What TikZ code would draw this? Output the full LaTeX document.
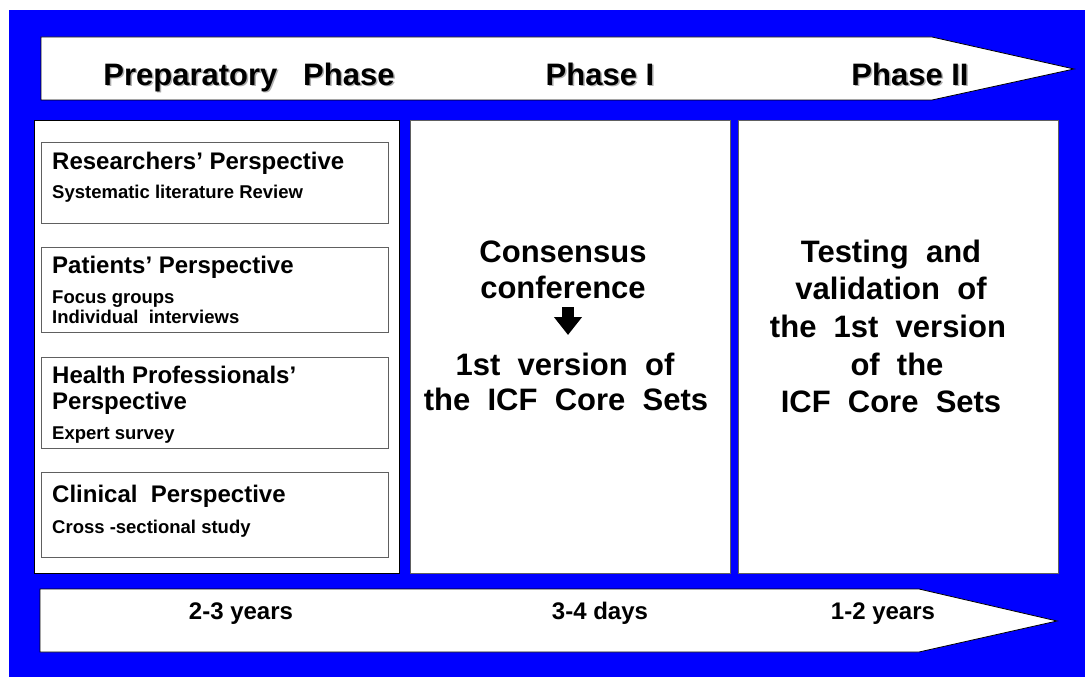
\documentclass[tikz,border=0pt]{standalone}
\usepackage{fontspec}
\setmainfont{Liberation Sans}
\usetikzlibrary{arrows.meta}

\definecolor{bgblue}{RGB}{0,0,255}
\definecolor{boxgray}{RGB}{96,96,96}
\definecolor{shadowgray}{RGB}{175,175,175}

\begin{document}
\begin{tikzpicture}[x=1pt,y=-1pt,
  panel/.style={draw=black, line width=0.8pt, fill=white},
  subbox/.style={draw=boxgray, line width=0.8pt, fill=white},
  arrowband/.style={draw=black, line width=0.8pt, fill=white, line join=miter},
  phase/.style={font=\fontsize{31}{36}\selectfont\bfseries, inner sep=0pt, anchor=base},
  phaseshadow/.style={phase, text=shadowgray},
  big/.style={font=\fontsize{31}{37}\selectfont\bfseries, inner sep=0pt, anchor=base},
  boxtitle/.style={font=\fontsize{24}{26}\selectfont\bfseries, inner sep=0pt, anchor=base west},
  boxsub/.style={font=\fontsize{18.5}{20}\selectfont\bfseries, inner sep=0pt, anchor=base west},
  duration/.style={font=\fontsize{24}{26}\selectfont\bfseries, inner sep=0pt, anchor=base},
  blockarrow/.style={line width=12pt, -{Triangle[width=27pt,length=18pt]}},
]
\useasboundingbox (0,0) rectangle (1085,677);
\fill[white] (0,0) rectangle (1085,677);
\fill[bgblue] (9,10) rectangle (1085,677);

% phase band across the top
\draw[arrowband] (41,37) -- (932,37) -- (1074,69) -- (932,100) -- (41,100) -- cycle;
\node[phaseshadow] at (250.5,86.5) {Preparatory~~~Phase};
\node[phaseshadow] at (601.5,86.5) {Phase I};
\node[phaseshadow] at (911.5,86.5) {Phase II};
\node[phase] (prep) at (249,85) {Preparatory~~~Phase};
\node[phase] (ph1) at (600,85) {Phase I};
\node[phase] (ph2) at (910,85) {Phase II};

% three phase panels
\draw[panel] (34,120) rectangle (399,573);
\draw[panel, draw=boxgray] (410,120) rectangle (730,573);
\draw[panel, draw=boxgray] (738,120) rectangle (1058,573);

% preparatory studies
\draw[subbox] (41,142) rectangle (388,223);
\draw[subbox] (41,247) rectangle (388,332);
\draw[subbox] (41,357) rectangle (388,448);
\draw[subbox] (41,472) rectangle (388,557);

\node[boxtitle] (r1) at (52,169) {Researchers’ Perspective};
\node[boxsub]   (r2) at (52,198) {Systematic literature Review};
\node[boxtitle] (p1) at (52,273) {Patients’ Perspective};
\node[boxsub]   (p2) at (52,303) {Focus groups};
\node[boxsub]   (p3) at (52,323) {Individual~~interviews};
\node[boxtitle] (h1) at (52,383) {Health Professionals’};
\node[boxtitle] (h2) at (52,409) {Perspective};
\node[boxsub]   (h3) at (52,439) {Expert survey};
\node[boxtitle] (c1) at (52,502) {Clinical~~Perspective};
\node[boxsub]   (c2) at (52,533) {Cross -sectional study};

% phase I
\node[big] (cc1) at (563,262) {Consensus};
\node[big] (cc2) at (563,298) {conference};
\coordinate (arrS) at (568,307);
\coordinate (arrE) at (568,335);
\draw[blockarrow] (arrS) -- (arrE);
\node[big] (fv1) at (565,375) {1st~~version~~of};
\node[big] (fv2) at (566,410) {the~~ICF~~Core~~Sets};

% phase II
\node[big] (tv1) at (891,262) {Testing~~and};
\node[big] (tv2) at (891,299) {validation~~of};
\node[big] (tv3) at (888,337) {the~~1st~~version};
\node[big] (tv4) at (897,375) {of~~the};
\node[big] (tv5) at (891,412) {ICF~~Core~~Sets};

% duration band along the bottom
\draw[arrowband] (40,589) -- (919,589) -- (1057,621) -- (919,652) -- (40,652) -- cycle;
\node[duration] (d0) at (241,619) {2-3 years};
\node[duration] (d1) at (600,619) {3-4 days};
\node[duration] (d2) at (883,619) {1-2 years};
\end{tikzpicture}
\end{document}
